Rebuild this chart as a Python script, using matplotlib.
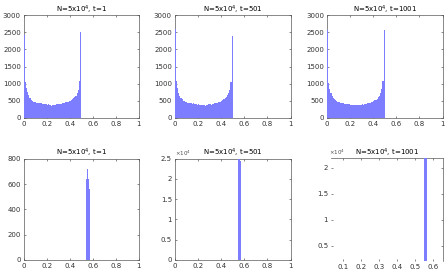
import matplotlib
matplotlib.use("Agg")
import matplotlib.pyplot as plt
import numpy as np
from matplotlib.ticker import FuncFormatter

# histogram counts, bins of 0.01 on [0, 0.5)
bin_w = 0.01
top_t1 = [2420, 1050, 860, 760, 660, 580, 530, 500, 480, 470,
          455, 445, 450, 440, 430, 435, 420, 410, 400, 405,
          390, 395, 380, 370, 355, 375, 380, 390, 400, 395,
          410, 420, 405, 430, 440, 450, 455, 460, 470, 490,
          500, 520, 545, 570, 610, 650, 720, 820, 1080, 2500]
top_t501 = [2590, 1080, 880, 740, 650, 590, 540, 500, 485, 465,
            460, 450, 440, 445, 430, 420, 425, 410, 400, 390,
            395, 380, 385, 370, 375, 365, 350, 370, 380, 395,
            400, 390, 410, 420, 425, 440, 445, 460, 475, 480,
            500, 515, 540, 575, 600, 660, 730, 830, 1050, 2400]
top_t1001 = [2560, 1020, 850, 740, 650, 590, 545, 510, 490, 470,
             455, 450, 440, 430, 435, 420, 410, 415, 400, 395,
             390, 385, 380, 375, 370, 380, 375, 370, 385, 390,
             395, 380, 400, 410, 420, 430, 440, 450, 460, 475,
             490, 510, 530, 560, 600, 650, 720, 840, 1080, 2560]
top_panels = [("t=1", top_t1), ("t=501", top_t501), ("t=1001", top_t1001)]

# bottom row: initial condition clustered around 0.56
fine_left = 0.541
fine_w = 0.001
bot_t1 = [300, 420, 520, 600, 640, 650, 655, 665, 670, 680,
          700, 690, 675, 720, 705, 660, 655, 650, 670, 680,
          660, 650, 640, 655, 650, 645, 640, 630, 620, 600,
          560, 480, 380]
bot_t501_edges = [0.55, 0.56, 0.57]
bot_t501 = [25600, 24400]
bot_t1001_edges = [0.55, 0.56, 0.57]
bot_t1001 = [25300, 24700]

bar_col = (0.49, 0.49, 1.0)
ax_col = '0.35'
fs = 5

fig = plt.figure(figsize=(4.46, 2.76), dpi=100)
plt.rcParams['font.family'] = 'DejaVu Sans'

fmt = FuncFormatter(lambda v, p: '%g' % v)


def style(ax, hide=()):
    for s in ax.spines.values():
        s.set_color(ax_col)
        s.set_linewidth(0.5)
    for s in hide:
        ax.spines[s].set_visible(False)
    ax.tick_params(direction='in', length=1.5, width=0.5, colors=ax_col,
                   labelsize=fs, labelcolor='0.2', top=True, right=True, pad=2)
    ax.xaxis.set_major_formatter(fmt)


def hist(ax, vals, edges):
    ax.stairs(vals, edges, fill=True, color=bar_col, linewidth=0, zorder=3)


tops = [[0.0531, 0.5725, 0.258, 0.373],
        [0.3917, 0.5725, 0.260, 0.373],
        [0.733, 0.5725, 0.2594, 0.373]]
for pos, (t, vals) in zip(tops, top_panels):
    ax = fig.add_axes(pos)
    edges = np.arange(len(vals) + 1) * bin_w
    hist(ax, vals, edges)
    ax.set_xlim(0, 1)
    ax.set_ylim(0, 3000)
    ax.set_xticks([0, 0.2, 0.4, 0.6, 0.8, 1])
    ax.set_yticks([0, 500, 1000, 1500, 2000, 2500, 3000])
    ax.set_title('N=5x10$^4$, ' + t, fontsize=fs, pad=2)
    style(ax)

# bottom left
ax = fig.add_axes([0.0531, 0.058, 0.258, 0.367])
edges = fine_left + np.arange(len(bot_t1) + 1) * fine_w
hist(ax, bot_t1, edges)
ax.set_xlim(0, 1)
ax.set_ylim(0, 800)
ax.set_xticks([0, 0.2, 0.4, 0.6, 0.8, 1])
ax.set_yticks([0, 200, 400, 600, 800])
ax.set_title('N=5x10$^4$, t=1', fontsize=fs, pad=2)
style(ax)

# bottom middle
ax = fig.add_axes([0.3917, 0.058, 0.260, 0.367])
hist(ax, bot_t501, bot_t501_edges)
ax.set_xlim(0, 1)
ax.set_ylim(0, 25000)
ax.set_xticks([0, 0.2, 0.4, 0.6, 0.8, 1])
yt = [0, 5000, 10000, 15000, 20000, 25000]
ax.set_yticks(yt)
ax.set_yticklabels(['%g' % (v / 1e4) for v in yt])
ax.text(0.0, 1.005, r'$\times10^4$', transform=ax.transAxes, fontsize=4,
        color='0.3', va='bottom', ha='left')
ax.set_title('N=5x10$^4$, t=501', fontsize=fs, pad=2)
style(ax)

# bottom right (zoomed view)
ax = fig.add_axes([0.742, 0.054, 0.251, 0.374])
hist(ax, bot_t1001, bot_t1001_edges)
ax.set_xlim(0.033, 0.656)
ax.set_ylim(2100, 21900)
ax.set_xticks([0.1, 0.2, 0.3, 0.4, 0.5, 0.6])
yt = [5000, 10000, 15000, 20000]
ax.set_yticks(yt)
ax.set_yticklabels(['%g' % (v / 1e4) for v in yt])
ax.text(-0.02, 1.005, r'$\times10^4$', transform=ax.transAxes, fontsize=4,
        color='0.3', va='bottom', ha='left')
ax.set_title('N=5x10$^4$, t=1001', fontsize=fs, pad=2)
style(ax, hide=('left', 'bottom'))

fig.savefig('out.png', dpi=100, facecolor='white')
